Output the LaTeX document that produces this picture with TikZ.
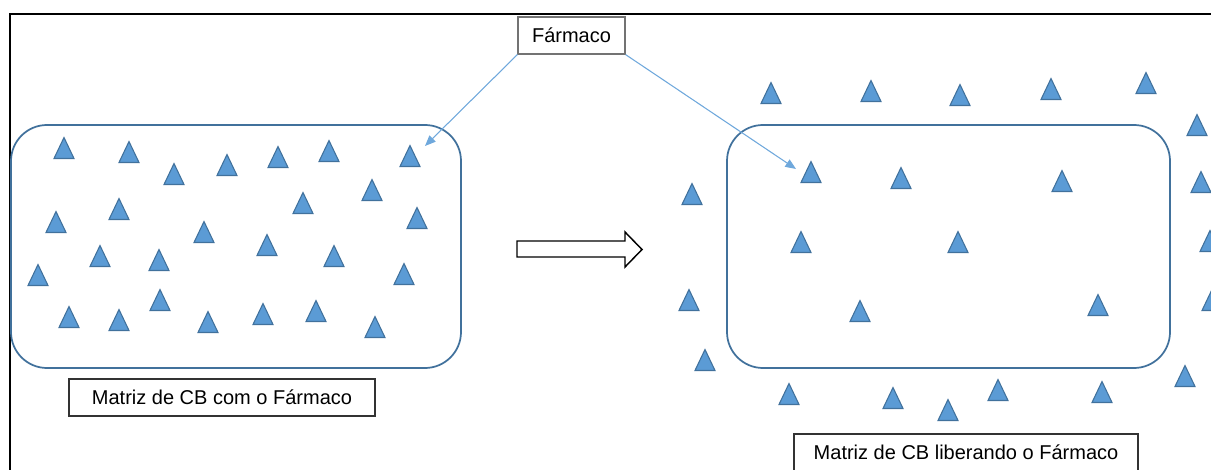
\documentclass[tikz,border=0pt]{standalone}
\usepackage{fontspec}
\setmainfont{Liberation Sans}
\usetikzlibrary{arrows.meta}

\definecolor{drugfill}{HTML}{5B9BD5}
\definecolor{drugline}{HTML}{41719C}
\definecolor{matrixline}{HTML}{41719C}
\definecolor{pointer}{HTML}{6FA8DC}

\tikzset{
  drug/.pic={
    \path[fill=drugfill, draw=drugline, line width=0.8pt, line join=miter]
      (-10,10.5) -- (10,10.5) -- (0,-10.5) -- cycle;
  },
  matrixbox/.style={draw=matrixline, line width=1.3pt, rounded corners=27pt,
    inner sep=0pt},
  labelbox/.style={draw=black!80, line width=0.9pt, fill=white, inner sep=0pt,
    minimum height=27.75pt, font=\fontsize{15pt}{18pt}\selectfont},
  tagbox/.style={labelbox, draw=black!55},
  pointerline/.style={draw=pointer, line width=0.8pt,
    -{Triangle[length=8pt,width=6.5pt]}},
  bigarrow/.style={draw=black, line width=1.1pt, fill=white, line join=miter},
}

\begin{document}
\begin{tikzpicture}[x=0.75pt, y=-0.75pt]
  \useasboundingbox (0,0) rectangle (1211,470);
  \clip (0,0) rectangle (1211,470);

  % outer frame (runs off the page to the right and bottom)
  \draw[black, line width=1pt] (10,480) -- (10,14) -- (1230,14);

  % matrices
  \node[matrixbox, minimum width=337.5pt, minimum height=182.25pt] (left) at (236,246.5) {};
  \node[matrixbox, minimum width=332.25pt, minimum height=182.25pt] (right) at (948.5,246.5) {};

  % drug particles loaded in the matrix
  \foreach \p in {(64,148),(129,152),(174,174),(227,165),(278,157),(329,151),(410,156),
                  (372,190),(303,203),(119,209),(56,222),(417,218),(204,232),(267,245),
                  (100,256),(159,260),(334,256),(38,275),(404,274),(160,300),(69,317),
                  (119,320),(208,322),(263,314),(316,311),(375,327)}
    \pic at \p {drug};

  % drug particles being released
  \foreach \p in {(771,93),(871,91),(960,95),(1051,89),(1146,83),(1197,125),
                  (692,194),(689,300),(705,360),
                  (811,172),(901,178),(1062,181),(801,242),(958,242),(860,311),(1098,305),
                  (1201,182),(1210,241),(1212,300),(1185,376),
                  (789,394),(893,398),(948,410),(998,390),(1102,392)}
    \pic at \p {drug};

  % process arrow
  \draw[bigarrow] (517,241) -- (625,241) -- (625,232) -- (642,249.5) -- (625,267)
    -- (625,257) -- (517,257) -- cycle;

  % labels
  \node[tagbox, minimum width=80.25pt] (drug) at (571.5,35.5) {Fármaco};
  \node[labelbox, minimum width=229.5pt] (labL) at (222,397.5) {Matriz de CB com o Fármaco};
  \node[labelbox, minimum width=258pt] (labR) at (966,452.5) {Matriz de CB liberando o Fármaco};

  % pointers from the tag to a particle in each matrix
  \coordinate (tipL) at (425,146);
  \coordinate (tipR) at (796,169);
  \draw[pointerline] (drug.south west) -- (tipL);
  \draw[pointerline] (drug.south east) -- (tipR);
\end{tikzpicture}
\end{document}
